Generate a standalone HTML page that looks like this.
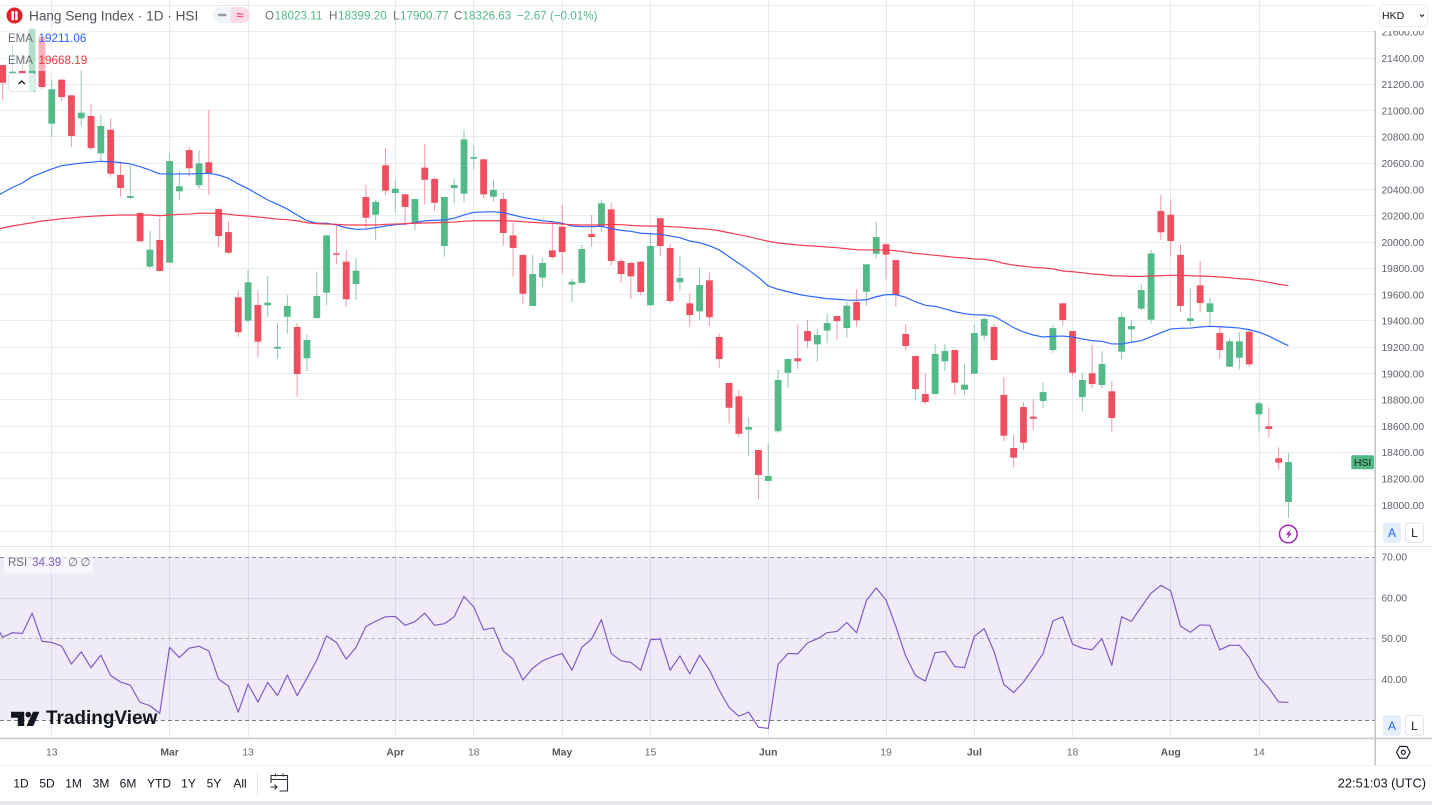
<!DOCTYPE html>
<html lang="en">
<head>
<meta charset="utf-8">
<title>Hang Seng Index chart</title>
<style>
html,body{margin:0;padding:0;background:#fff;width:1432px;height:805px;overflow:hidden}
svg{display:block;font-family:"Liberation Sans",sans-serif}
</style>
</head>
<body>
<svg id="chart" width="1432" height="805" viewBox="0 0 1432 805" xmlns="http://www.w3.org/2000/svg">
  <defs>
    <clipPath id="pane-clip"><rect x="0" y="0" width="1375" height="546"/></clipPath>
    <clipPath id="axis-clip"><rect x="1376" y="31" width="56" height="515"/></clipPath>
    <clipPath id="rsi-clip"><rect x="0" y="547" width="1375" height="191"/></clipPath>
  </defs>
  <rect x="0" y="0" width="1432" height="805" fill="#ffffff"/>
  <g id="grid"></g>
  <rect x="0" y="557.3" width="1375" height="163" fill="#7e57c2" fill-opacity="0.12"/>
  <g id="rsi-levels"></g>
  <g id="candles" clip-path="url(#pane-clip)"></g>
  <g id="ema-lines" clip-path="url(#pane-clip)"></g>
  <g id="rsi-line" clip-path="url(#rsi-clip)"></g>

  <g id="price-axis" clip-path="url(#axis-clip)"></g>
  <g id="rsi-axis"></g>
  <g id="time-axis"></g>

  <rect x="0" y="546" width="1432" height="1" fill="#e3e5ea"/>
  <rect x="0" y="737.6" width="1432" height="1.6" fill="#c8c9cc"/>
  <rect x="1374.4" y="31" width="1.6" height="734" fill="#c4c5c8"/>
  <rect x="0" y="765" width="1432" height="1" fill="#eceef1"/>
  <rect x="0" y="801" width="1432" height="4" fill="#e6e7ee"/>

  <!-- legend -->
  <rect x="6" y="28" width="84" height="43" fill="#ffffff" fill-opacity="0.55"/>
  <g>
    <circle cx="14.5" cy="15.5" r="8" fill="#e0202a"/>
    <rect x="11.4" y="11" width="2.6" height="9.5" rx="1.2" fill="#ffffff"/>
    <rect x="15" y="11" width="2.6" height="9.5" rx="1.2" fill="#ffffff"/>
  </g>
  <text x="29" y="20.5" font-size="13.6" fill="#50535c">Hang Seng Index · 1D · HSI</text>
  <g>
    <path d="M221 7h10v16h-10a8 8 0 0 1 0-16z" fill="#f0f3fa"/>
    <path d="M231 7h11a8 8 0 0 1 0 16h-11z" fill="#fbdbe5"/>
    <rect x="218" y="13.7" width="8.5" height="2.6" rx="1" fill="#9598a1"/>
    <text x="240" y="19.5" font-size="13" text-anchor="middle" fill="#e91e63">≈</text>
  </g>
  <g font-size="11.7">
    <text x="265" y="19.5" fill="#6a6d78">O</text>
    <text x="274.5" y="19.5" fill="#53b987">18023.11</text>
    <text x="329" y="19.5" fill="#6a6d78">H</text>
    <text x="338" y="19.5" fill="#53b987">18399.20</text>
    <text x="393" y="19.5" fill="#6a6d78">L</text>
    <text x="400" y="19.5" fill="#53b987">17900.77</text>
    <text x="454" y="19.5" fill="#6a6d78">C</text>
    <text x="462.5" y="19.5" fill="#53b987">18326.63</text>
    <text x="517" y="19.5" fill="#53b987">−2.67 (−0.01%)</text>
  </g>
  <text x="8" y="42" font-size="11.5" fill="#6a6d78">EMA</text>
  <text x="38.5" y="42" font-size="11.7" fill="#2962ff">19211.06</text>
  <text x="8" y="64" font-size="11.5" fill="#6a6d78">EMA</text>
  <text x="38.5" y="64" font-size="11.7" fill="#f23645">19668.19</text>
  <g>
    <rect x="8.5" y="73.5" width="27" height="18" rx="3" fill="#ffffff" fill-opacity="0.8" stroke="#e0e3eb"/>
    <path d="M18.5 84l3.2-3 3.2 3" fill="none" stroke="#131722" stroke-width="1.2"/>
  </g>

  <!-- RSI legend -->
  <rect x="4" y="550" width="89" height="23" fill="#ffffff" fill-opacity="0.55"/>
  <text x="8" y="566" font-size="11.5" fill="#6a6d78">RSI</text>
  <text x="32" y="566" font-size="11.7" fill="#7e57c2">34.39</text>
  <text x="68" y="566" font-size="11.5" fill="#6a6d78">∅</text>
  <text x="80.5" y="566" font-size="11.5" fill="#6a6d78">∅</text>

  <!-- TradingView logo -->
  <g fill="#131722">
    <path d="M11 711.8h13.2v14.2h-6.4v-8.2H11z"/>
    <circle cx="28.3" cy="714.6" r="2.8"/>
    <path d="M33 711.8h6.4l-6.1 14.2h-6.8z"/>
    <text x="46" y="724.2" font-size="19" font-weight="bold" letter-spacing="-0.03">TradingView</text>
  </g>

  <!-- Currency button -->
  <g>
    <rect x="1379.5" y="4.5" width="48" height="22" rx="4" fill="#ffffff" stroke="#eceef1"/>
    <text x="1382" y="19" font-size="10.5" fill="#131722">HKD</text>
    <path d="M1420 14.5l2 2 2-2" fill="none" stroke="#131722" stroke-width="1"/>
  </g>

  <!-- last price tag -->
  <g>
    <rect x="1351.3" y="455.3" width="22.7" height="14" rx="1.5" fill="#53b987"/>
    <text x="1362.6" y="466.2" font-size="10.5" text-anchor="middle" fill="#14241c">HSI</text>
  </g>

  <!-- event marker -->
  <g>
    <circle cx="1288.3" cy="534" r="8.8" fill="#ffffff" stroke="#9c27b0" stroke-width="1.5"/>
    <path d="M1290.8 529.2l-5 5.4h2.8l-1.6 4.2 5-5.4h-2.8z" fill="#9c27b0"/>
  </g>

  <!-- A / L buttons -->
  <g>
    <rect x="1383" y="522.4" width="18" height="20.6" rx="3" fill="#e3effd"/>
    <text x="1392" y="537" font-size="12" text-anchor="middle" fill="#2962ff">A</text>
  </g>
  <g>
    <rect x="1405.5" y="522.9" width="18" height="19.6" rx="3" fill="#ffffff" stroke="#e0e3eb"/>
    <text x="1414.5" y="537" font-size="12" text-anchor="middle" fill="#131722">L</text>
  </g>
  <g>
    <rect x="1383" y="715" width="18" height="20.6" rx="3" fill="#e3effd"/>
    <text x="1392" y="730" font-size="12" text-anchor="middle" fill="#2962ff">A</text>
  </g>
  <g>
    <rect x="1405.5" y="715.5" width="18" height="19.6" rx="3" fill="#ffffff" stroke="#e0e3eb"/>
    <text x="1414.5" y="730" font-size="12" text-anchor="middle" fill="#131722">L</text>
  </g>

  <!-- settings -->
  <g fill="none" stroke="#131722" stroke-width="1.1">
    <path d="M1399.8 746.4h7l3.3 5.9-3.3 5.9h-7l-3.3-5.9z" stroke-linejoin="round"/>
    <circle cx="1403.3" cy="752.3" r="2"/>
  </g>

  <!-- range toolbar -->
  <g font-size="12" fill="#131722" text-anchor="middle">
    <text x="21" y="787.5">1D</text>
    <text x="47" y="787.5">5D</text>
    <text x="73.5" y="787.5">1M</text>
    <text x="101" y="787.5">3M</text>
    <text x="128" y="787.5">6M</text>
    <text x="159" y="787.5">YTD</text>
    <text x="188.5" y="787.5">1Y</text>
    <text x="214" y="787.5">5Y</text>
    <text x="240" y="787.5">All</text>
  </g>
  <rect x="257" y="773" width="1" height="21" fill="#e0e3eb"/>
  <g fill="none" stroke="#2a2e39" stroke-width="1.1">
    <path d="M271 783v-7.5h16.5v15.5h-8"/>
    <path d="M271 779.5h16.5"/>
    <path d="M275.5 773.5v3M283 773.5v3"/>
    <path d="M270.5 787h6.5M274.5 784.5l2.5 2.5-2.5 2.5"/>
  </g>
  <text x="1426" y="787.5" font-size="12.8" text-anchor="end" fill="#131722">22:51:03 (UTC)</text>
</svg>

<script>
// Daily candles, oldest to newest
const opens = [21347,21286,21301,21141,21560,20900,21235,21116,20941,20959,
20675,20854,20510,20335,20221,19813,20016,19843,20386,20700,
20432,20607,20251,20076,19580,19402,19521,19519,19189,19432,
19354,19116,19422,19615,19914,19851,19681,20343,20208,20584,
20373,20363,20143,20566,20480,19970,20411,20368,20634,20629,
20345,20327,20051,19902,19514,19729,19937,20117,19676,19689,
20061,20120,20249,19856,19841,19851,19519,20181,19955,19694,
19534,19473,19709,19278,18928,18827,18573,18418,18183,18561,
19006,19116,19323,19222,19326,19437,19346,19544,19622,19911,
19983,19863,19301,19133,18844,18844,19093,19179,18877,18999,
19288,19354,18837,18434,18745,18672,18791,19179,19534,19323,
18821,19002,18913,18865,19166,19336,19493,19409,20236,20208,
19902,19399,19671,19468,19308,19052,19120,19318,18690,18599,
18355,18023.11];
const closes = [21212,21296,21286,21620,21179,21162,21103,20807,20984,20715,
20883,20520,20411,20350,20006,19942,19780,20616,20424,20561,
20599,20525,20046,19919,19314,19694,19242,19539,19204,19514,
18996,19255,19590,20051,19904,19565,19782,20185,20305,20391,
20406,20267,20327,20474,20299,20343,20434,20781,20647,20363,
20396,20069,19955,19607,19757,19841,19886,19924,19698,19947,
20038,20295,19856,19757,19739,19620,19970,19970,19552,19727,
19445,19673,19428,19110,18740,18542,18593,18228,18221,18951,
19110,19093,19247,19293,19384,19399,19516,19405,19831,20038,
19904,19597,19209,18882,18783,19149,19171,18930,18915,19308,
19415,19103,18527,18360,18474,18656,18859,19346,19407,19006,
18951,18920,19072,18662,19430,19361,19635,19914,20074,20008,
19514,19420,19536,19534,19179,19245,19245,19070,18774,18578,
18322,18326.63];
const highs = [21347,21499,21438,21630,21570,21233,21240,21120,21301,21052,
20966,20941,20611,20581,20231,20084,20181,20675,20540,20723,
20700,21004,20264,20160,19635,19787,19635,19742,19382,19597,
19382,19295,19772,20054,20122,19940,19879,20434,20320,20718,
20472,20365,20327,20746,20492,20343,20480,20858,20738,20631,
20472,20375,20143,19909,19902,19876,20162,20282,19719,19978,
20206,20320,20295,19876,19851,19856,20067,20183,19985,19894,
19610,19805,19767,19301,18928,18875,18667,18418,18464,19027,
19118,19374,19407,19336,19458,19439,19546,19641,19833,20152,
19995,19864,19377,19134,19002,19225,19225,19180,19070,19369,
19428,19377,18971,18532,18781,18806,18933,19369,19536,19324,
19002,19217,19171,18943,19466,19407,19681,19940,20358,20327,
19978,19648,19856,19577,19364,19268,19314,19336,18786,18743,
18439,18399.20];
const lows = [21080,21233,21271,21141,21164,20801,21073,20725,20883,20700,
20611,20497,20345,20325,20003,19800,19776,19841,20320,20497,
20406,20358,19965,19909,19280,19387,19120,19432,19110,19303,
18824,19019,19420,19521,19833,19508,19559,20105,20016,20358,
20226,20124,20092,20289,20236,19889,20295,20299,20556,20333,
20307,19972,19736,19529,19512,19660,19871,19762,19542,19687,
19965,20079,19820,19691,19567,19597,19517,19894,19534,19630,
19356,19407,19361,19044,18621,18519,18373,18043,18181,18550,
18892,19034,19196,19090,19230,19255,19272,19354,19514,19876,
19717,19508,19174,18799,18768,18842,19019,18837,18837,18997,
19250,19095,18487,18284,18418,18570,18740,19158,19364,18983,
18710,18890,18890,18558,19110,19242,19485,19382,20016,19894,
19470,19369,19463,19356,19110,19050,19032,19047,18553,18515,
18266,17900.77];
const emaFast = [20375,20416,20449,20497,20527,20556,20581,20591,20601,20607,
20614,20611,20604,20594,20573,20548,20518,20518,20518,20518,
20520,20523,20510,20485,20442,20406,20363,20320,20287,20251,
20206,20162,20143,20143,20130,20109,20097,20099,20109,20122,
20132,20137,20147,20162,20165,20168,20181,20206,20226,20229,
20231,20223,20206,20188,20175,20162,20155,20143,20122,20117,
20117,20120,20102,20089,20082,20067,20063,20059,20046,20033,
20008,19995,19972,19940,19889,19838,19787,19732,19666,19641,
19622,19603,19590,19580,19569,19565,19559,19557,19561,19584,
19600,19600,19580,19546,19519,19511,19491,19470,19455,19447,
19445,19435,19394,19349,19316,19293,19278,19283,19285,19278,
19263,19250,19245,19225,19225,19238,19250,19280,19310,19339,
19344,19346,19354,19359,19356,19352,19346,19333,19314,19285,
19247,19211.06];
const emaSlow = [20107,20122,20135,20147,20160,20168,20178,20183,20191,20196,
20200,20203,20206,20206,20206,20206,20200,20206,20211,20213,
20219,20219,20219,20211,20203,20198,20191,20183,20175,20170,
20162,20147,20140,20137,20135,20130,20130,20130,20130,20135,
20137,20140,20143,20145,20147,20150,20152,20158,20162,20162,
20162,20162,20160,20155,20150,20145,20143,20137,20132,20130,
20130,20130,20135,20132,20127,20122,20122,20120,20117,20114,
20107,20102,20097,20086,20071,20056,20041,20023,20006,19993,
19985,19978,19972,19968,19962,19957,19949,19942,19940,19940,
19940,19934,19924,19914,19907,19899,19892,19884,19879,19871,
19869,19858,19838,19825,19816,19808,19803,19797,19780,19774,
19767,19757,19752,19744,19742,19739,19739,19742,19744,19747,
19747,19744,19742,19739,19734,19729,19721,19717,19706,19694,
19679,19668.19];
const rsiValues = [50.4,51.5,51.3,56.3,49.4,49.1,48.2,43.8,46.8,42.9,
46.0,41.0,39.4,38.6,34.4,33.6,31.7,47.9,45.4,47.7,
48.2,47.0,40.1,38.4,32.0,38.9,34.5,39.3,36.1,41.1,
36.1,40.3,44.8,50.7,49.1,45.0,47.9,53.0,54.3,55.4,
55.5,53.3,54.2,56.3,53.3,53.7,55.4,60.4,57.8,52.2,
52.7,47.0,45.0,39.9,42.8,44.6,45.6,46.4,42.3,47.9,
49.9,54.7,46.4,44.6,44.2,42.3,49.8,49.9,42.3,45.8,
41.4,46.0,42.4,37.4,33.2,31.0,32.0,28.3,28.0,43.7,
46.4,46.3,49.0,50.0,51.5,51.8,54.0,51.5,59.4,62.5,
59.5,53.0,45.8,41.0,39.6,46.6,46.9,43.2,42.9,50.6,
52.5,46.9,38.8,36.8,39.4,42.8,46.4,54.4,55.4,48.7,
47.7,47.3,50.0,43.5,55.4,54.3,57.8,61.2,63.1,61.8,
53.1,51.6,53.4,53.3,47.3,48.4,48.4,45.4,40.6,37.9,
34.5,34.39];

// Values of the bar just left of the visible range, so lines reach the pane edge
const emaFastPrior = 20335;
const emaSlowPrior = 20092;
const rsiPrior = 54.5;

// Axis labels
const priceGridLevels = [21800,21600,21400,21200,21000,20800,20600,20400,20200,20000,19800,19600,19400,19200,19000,18800,18600,18400,18200,18000,17800];
const priceTickLabels = ["21600.00","21400.00","21200.00","21000.00","20800.00","20600.00","20400.00","20200.00","20000.00","19800.00","19600.00","19400.00","19200.00","19000.00","18800.00","18600.00","18400.00","18200.00","18000.00"];
const priceTickValues = [21600,21400,21200,21000,20800,20600,20400,20200,20000,19800,19600,19400,19200,19000,18800,18600,18400,18200,18000];
const rsiTickValues = [70,60,50,40];
const rsiTickLabels = ["70.00","60.00","50.00","40.00"];
const timeTickBars = [5,17,25,40,48,57,66,78,90,99,109,119,128];
const timeTickLabels = ["13","Mar","13","Apr","18","May","15","Jun","19","Jul","18","Aug","14"];
const timeTickStrong = ["Mar","Apr","May","Jun","Jul","Aug"];

// Axis functions
function xBar(i){ return 2.7 + i * 9.815; }
function yPrice(p){ return 505 - (p - 18000) * 0.13147; }
function yRsi(v){ return 720.3 - (v - 30) * 4.075; }

const NS = "http://www.w3.org/2000/svg";
function make(tag, parent){
  const el = document.createElementNS(NS, tag);
  parent.appendChild(el);
  return el;
}
const gridG = document.getElementById("grid");
const candlesG = document.getElementById("candles");
const emaG = document.getElementById("ema-lines");
const rsiG = document.getElementById("rsi-line");
const rsiLevelsG = document.getElementById("rsi-levels");
const priceAxisG = document.getElementById("price-axis");
const rsiAxisG = document.getElementById("rsi-axis");
const timeAxisG = document.getElementById("time-axis");

// Horizontal price grid
priceGridLevels.forEach(function(level){
  const line = make("rect", gridG);
  
  
  line.setAttribute("x", 0);
  line.setAttribute("y", (Math.round(yPrice(level) - 0.5)).toString());
  line.setAttribute("width", 1375);
  line.setAttribute("height", 1);
  line.setAttribute("fill", "#e6ecf1");
});

// RSI horizontal grid (60 and 40 solid)
[60,40].forEach(function(v){
  const line = make("rect", gridG);
  
  
  line.setAttribute("x", 0);
  line.setAttribute("y", Math.round(yRsi(v) - 0.5));
  line.setAttribute("width", 1375);
  line.setAttribute("height", 1);
  line.setAttribute("fill", "#e3e6f0");
});

// Vertical time grid
timeTickBars.forEach(function(bar){
  const line = make("rect", gridG);
  
  
  line.setAttribute("x", Math.round(xBar(bar) - 0.5));
  line.setAttribute("y", 0);
  line.setAttribute("width", 1);
  line.setAttribute("height", 738);
  line.setAttribute("fill", "#e2ebf2");
});

// RSI dashed levels
[[70,"#787b86",0.85],[50,"#787b86",0.45],[30,"#787b86",1]].forEach(function(level){
  const line = make("line", rsiLevelsG);
  
  
  line.setAttribute("x1", 0);
  line.setAttribute("x2", 1375);
  line.setAttribute("y1", Math.round(yRsi(level[0]) - 0.5) + 0.5);
  line.setAttribute("y2", Math.round(yRsi(level[0]) - 0.5) + 0.5);
  line.setAttribute("stroke", level[1]);
  line.setAttribute("stroke-opacity", level[2]);
  line.setAttribute("stroke-dasharray", "4 3");
});

// Candles
opens.forEach(function(open, i){
  const close = closes[i];
  const up = close >= open;
  const g = make("g", candlesG);
  
  
  const x = xBar(i);
  const wick = make("rect", g);
  
  
  wick.setAttribute("x", x - 0.5);
  wick.setAttribute("width", 1);
  wick.setAttribute("y", yPrice(highs[i]));
  wick.setAttribute("height", Math.max(0.5, yPrice(lows[i]) - yPrice(highs[i])));
  wick.setAttribute("fill", up ? "#8fc6b8" : "#f498a5");
  const body = make("rect", g);
  
  
  const top = yPrice(Math.max(open, close));
  const bottom = yPrice(Math.min(open, close));
  body.setAttribute("x", x - 3.4);
  body.setAttribute("width", 6.8);
  body.setAttribute("y", top);
  body.setAttribute("height", Math.max(1.4, bottom - top));
  body.setAttribute("fill", up ? "#53b987" : "#ef4e5f");
});

// Line helper: starts one bar left of the view so the line reaches the pane edge
function linePath(prior, values, yFn){
  let d = "M" + xBar(-1).toFixed(2) + " " + yFn(prior).toFixed(2);
  values.forEach(function(v, i){
    d += "L" + xBar(i).toFixed(2) + " " + yFn(v).toFixed(2);
  });
  return d;
}

const fastLine = make("path", emaG);


fastLine.setAttribute("d", linePath(emaFastPrior, emaFast, yPrice));
fastLine.setAttribute("fill", "none");
fastLine.setAttribute("stroke", "#2f68ff");
fastLine.setAttribute("stroke-width", "1.2");

const slowLine = make("path", emaG);


slowLine.setAttribute("d", linePath(emaSlowPrior, emaSlow, yPrice));
slowLine.setAttribute("fill", "none");
slowLine.setAttribute("stroke", "#f23d50");
slowLine.setAttribute("stroke-width", "1.2");

const rsiPath = make("path", rsiG);


rsiPath.setAttribute("d", linePath(rsiPrior, rsiValues, yRsi));
rsiPath.setAttribute("fill", "none");
rsiPath.setAttribute("stroke", "#7e57c2");
rsiPath.setAttribute("stroke-width", "1.15");
rsiPath.setAttribute("stroke-linejoin", "round");

// Price axis labels
priceTickValues.forEach(function(value, i){
  const t = make("text", priceAxisG);
  
  
  t.setAttribute("x", 1381.5);
  t.setAttribute("y", yPrice(value) + 3.8);
  t.setAttribute("font-size", "10.2");
  t.setAttribute("fill", "#5d606b");
  t.textContent = priceTickLabels[i];
});

// RSI axis labels
rsiTickValues.forEach(function(value, i){
  const t = make("text", rsiAxisG);
  
  
  t.setAttribute("x", 1381.5);
  t.setAttribute("y", yRsi(value) + 3.4);
  t.setAttribute("font-size", "10.2");
  t.setAttribute("fill", "#5d606b");
  t.textContent = rsiTickLabels[i];
});

// Time axis labels
timeTickBars.forEach(function(bar, i){
  const t = make("text", timeAxisG);
  
  
  t.setAttribute("x", xBar(bar));
  t.setAttribute("y", 755.5);
  t.setAttribute("font-size", "10.4");
  t.setAttribute("text-anchor", "middle");
  const strong = timeTickStrong.indexOf(timeTickLabels[i]) >= 0;
  t.setAttribute("fill", strong ? "#55575f" : "#666973");
  if (strong) {
    t.setAttribute("font-weight", "bold");
  }
  t.textContent = timeTickLabels[i];
});
</script>
</body>
</html>
